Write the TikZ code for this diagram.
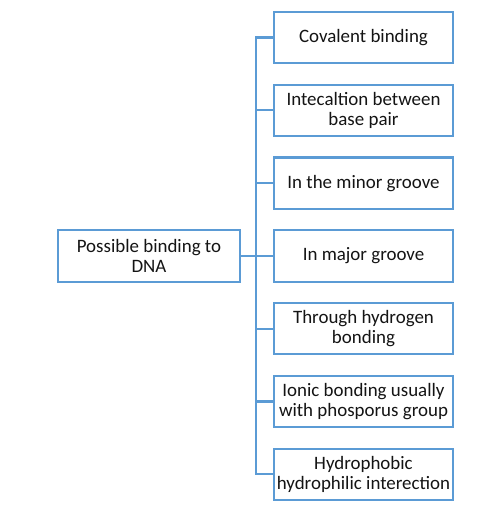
\documentclass[tikz,border=0pt]{standalone}
\usepackage{fontspec}
\setmainfont{Carlito}
\definecolor{boxblue}{RGB}{91,155,213}
\definecolor{txt}{RGB}{20,20,20}
\begin{document}
\begin{tikzpicture}[x=0.75pt,y=-0.75pt,
  bx/.style={draw=boxblue,line width=1.6pt,fill=white,minimum width=134.25pt,minimum height=38.5pt,
    inner sep=1pt,align=center,text=txt,font=\fontsize{14.2pt}{15.5pt}\selectfont},
  ln/.style={draw=boxblue,line width=1.6pt}]
\useasboundingbox (0,0) rectangle (477,512);
\coordinate (T) at (256,0);
\node[bx] (b1) at (363.5,37.5) {Covalent binding};
\node[bx] (b2) at (363.5,110.3) {Intecaltion between\\base pair};
\node[bx] (b3) at (363.5,183.1) {In the minor groove};
\node[bx] (b4) at (363.5,255.9) {In major groove};
\node[bx] (b5) at (363.5,328.7) {Through hydrogen\\bonding};
\node[bx] (b6) at (363.5,401.5) {Ionic bonding usually\\with phosporus group};
\node[bx] (b7) at (363.5,474.3) {Hydrophobic\\hydrophilic interection};
\node[bx,minimum width=136.5pt,minimum height=39pt] (L) at (149,256) {Possible binding to\\DNA};
\draw[ln] (b1.west) -| (b7.west -| T) -- (b7.west);
\foreach \i in {2,...,6} {\draw[ln] (b\i.west) -- (b\i.west -| T);}
\draw[ln] (L.east) -- (L.east -| T);
\end{tikzpicture}
\end{document}
